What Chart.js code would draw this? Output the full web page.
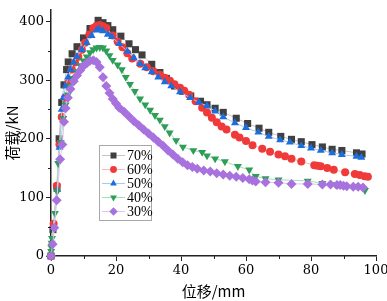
<!DOCTYPE html>
<html>
<head>
<meta charset="utf-8">
<script src="https://cdn.jsdelivr.net/npm/chart.js@4/dist/chart.umd.min.js"></script>
<style>
  html, body { margin: 0; padding: 0; background: #fff; }
  #wrap { width: 387px; height: 301px; }
</style>
</head>
<body>
<div id="wrap"><canvas id="loadPlot" width="387" height="301"></canvas></div>
<script>
// displacement (mm) / load (kN)
const labels = ['70%', '60%', '50%', '40%', '30%'];

const disp70 = [0, 0.6, 1.8, 2.5, 3.3, 4, 4.8, 5.3, 6.5, 8, 10, 12, 14.5, 16, 17.5, 19, 21.5, 24, 26, 28, 31, 33.5, 35.5, 38, 40.5, 43, 46, 48, 50.5, 53, 57, 60.5, 64, 67, 70.7, 74, 77, 80.3, 83.5, 86.5, 89.5, 94, 95.7];
const load70 = [0, 45, 118, 200, 262, 292, 318, 331, 345, 357, 372, 388, 402, 398, 393, 386, 375, 362, 352, 343, 327, 313, 303, 290, 281, 273, 264, 258, 252, 245, 235, 226, 218, 211, 204, 199, 195, 190, 186, 182, 180, 176, 174];

const disp60 = [0, 0.8, 1.8, 2.6, 3.3, 4.3, 5.3, 6.4, 7.4, 8.4, 9.5, 10.5, 11.8, 13, 14, 15, 16, 17, 19, 20.5, 22, 23.5, 25, 27.5, 29.5, 31.5, 33.5, 35, 36.6, 38, 39.7, 41, 42.5, 44.5, 46.5, 48, 49.5, 51, 52.5, 54, 56.6, 58, 60, 62, 65, 67.4, 70, 72, 74, 77, 81, 82, 83, 85, 87, 90.5, 93.5, 95, 96.5, 97.5];
const load60 = [0, 55, 120, 190, 237, 270, 295, 318, 330, 340, 352, 364, 378, 389, 393, 394, 392, 389, 376, 366, 356, 346, 337, 328, 322, 315, 309, 304, 299, 293, 287, 282, 275, 264, 253, 245, 236, 228, 221, 216, 207, 202, 196, 189, 183, 178, 173, 170, 166, 161, 155, 154, 153, 150, 147, 143, 140, 138, 136, 135];

const disp50 = [0, 1, 1.9, 2.6, 3.3, 3.8, 4.5, 5.3, 6, 7, 8, 9.5, 11, 12.5, 14, 14.8, 16, 17.5, 18.7, 21, 23.5, 25.5, 27.4, 29, 31, 33, 35, 37, 39.7, 42.8, 45.5, 48, 50.5, 53, 56.6, 60, 63.8, 67, 70.5, 73.5, 77, 80, 83, 86.5, 89.5, 94, 95.5];
const load50 = [0, 50, 113, 185, 250, 270, 290, 305, 318, 330, 340, 352, 364, 376, 385, 387, 384, 378, 374, 362, 349, 338, 328, 321, 314, 305, 297, 290, 280, 270, 262, 256, 247, 237, 227, 219, 211, 204, 198, 194, 188, 184, 180, 176, 173, 170, 168];

const disp40 = [0, 0.05, 0.1, 0.2, 0.3, 1.2, 1.9, 2.2, 3, 3.8, 4.5, 5.2, 6, 7, 8, 9, 10, 11, 12, 13, 14, 15, 16, 17, 18, 19, 20.5, 21.8, 23, 24.3, 25.8, 27.4, 29, 30.5, 32, 33.5, 35, 36.5, 38.5, 40.6, 43.8, 46.5, 48, 50.5, 53.5, 57.5, 61, 63, 66, 70, 79, 83.5, 87.5, 96.6];
const load40 = [0, 8, 15, 22, 30, 73, 110, 158, 194, 235, 258, 275, 290, 303, 315, 325, 333, 340, 347, 352, 355, 356, 355, 350, 342, 334, 326, 318, 305, 293, 281, 268, 258, 249, 240, 232, 221, 210, 197, 186, 180, 177, 171, 166, 161, 153, 147, 136, 132, 130, 128, 124, 122, 112];

const disp30 = [0, 0.5, 1, 1.75, 2.8, 3.5, 4, 4.5, 5.2, 6, 7, 8, 9, 10, 11, 12, 13, 14, 15, 16, 17, 18, 19, 20, 21, 22.5, 24, 25.5, 27, 28.5, 30, 31.5, 33, 34.5, 36, 37.5, 39, 40.5, 42, 43.5, 45, 47, 49, 51, 53, 55, 57, 59, 61, 62, 63, 66, 70, 74, 79, 83.5, 86, 88, 89, 90, 91, 93, 94.5, 96];
const load30 = [0, 20, 48, 95, 165, 190, 229, 252, 270, 285, 298, 308, 317, 324, 329, 333, 334, 331, 322, 305, 290, 278, 268, 260, 253, 246, 238, 230, 223, 216, 209, 202, 195, 188, 180, 173, 166, 160, 155, 152, 149, 146, 144, 141, 139, 137, 135, 133, 131, 129, 127, 126, 125, 123, 123, 122, 122, 121, 121, 120, 119, 118, 118, 117];

const xTicks = [0, 20, 40, 60, 80, 100];
const yTicks = [0, 100, 200, 300, 400];

const markerColors = ['#404040', '#f03a3a', '#1c6edc', '#2e9e56', '#a872de'];
const lineColors = ['#c4c4c4', '#f7b8b8', '#a9c8f2', '#a9dcbc', '#dcc6f3'];
const markerStyles = ['rect', 'circle', 'triangle', 'triangle', 'rectRot'];
const markerRotation = [0, 0, 0, 180, 0];
const markerRadius = [5, 4, 4.6, 4.6, 5];

function makePoints(xs, ys) {
    return xs.map((x, i) => ({ x: x, y: ys[i] }));
}

const seriesData = [
    makePoints(disp70, load70),
    makePoints(disp60, load60),
    makePoints(disp50, load50),
    makePoints(disp40, load40),
    makePoints(disp30, load30)
];

const datasets = seriesData.map((pts, i) => ({
    label: labels[i],
    data: pts,
    showLine: true,
    borderColor: lineColors[i],
    borderWidth: 1,
    backgroundColor: markerColors[i],
    pointBackgroundColor: markerColors[i],
    pointBorderColor: markerColors[i],
    pointBorderWidth: 0,
    pointStyle: markerStyles[i],
    pointRotation: markerRotation[i],
    pointRadius: markerRadius[i],
    order: 5 - i,
    clip: false
}));

function drawMarker(ctx, style, rot, x, y, r, color) {
    ctx.save();
    ctx.fillStyle = color;
    ctx.beginPath();
    if (style === 'rect') {
        const s = r * Math.SQRT1_2;
        ctx.rect(x - s, y - s, 2 * s, 2 * s);
    } else if (style === 'circle') {
        ctx.arc(x, y, r, 0, Math.PI * 2);
    } else if (style === 'triangle') {
        const base = rot ? Math.PI / 2 : -Math.PI / 2;
        for (let k = 0; k < 3; k++) {
            const a = base + k * 2 * Math.PI / 3;
            const px = x + r * Math.cos(a);
            const py = y + r * Math.sin(a);
            if (k === 0) ctx.moveTo(px, py); else ctx.lineTo(px, py);
        }
        ctx.closePath();
    } else {
        ctx.moveTo(x, y - r);
        ctx.lineTo(x + r, y);
        ctx.lineTo(x, y + r);
        ctx.lineTo(x - r, y);
        ctx.closePath();
    }
    ctx.fill();
    ctx.restore();
}

// minor ticks + boxed legend inside the plot
const extras = {
    id: 'extras',
    afterDraw(chart) {
        const ctx = chart.ctx;
        const xs = chart.scales.x;
        const ys = chart.scales.y;
        const area = chart.chartArea;
        ctx.save();
        ctx.strokeStyle = '#222';
        ctx.lineWidth = 1;
        ctx.beginPath();
        for (let v = 10; v < 100; v += 20) {
            const px = Math.round(xs.getPixelForValue(v)) + 0.5;
            ctx.moveTo(px, area.bottom);
            ctx.lineTo(px, area.bottom + 3);
        }
        for (let v = 50; v < 420; v += 100) {
            const py = Math.round(ys.getPixelForValue(v)) + 0.5;
            ctx.moveTo(area.left, py);
            ctx.lineTo(area.left - 3, py);
        }
        ctx.stroke();

        // legend
        const bx = 99.5, by = 145.5, bw = 52, bh = 75;
        ctx.fillStyle = '#fff';
        ctx.fillRect(bx, by, bw, bh);
        ctx.strokeStyle = '#a8a8a8';
        ctx.strokeRect(bx, by, bw, bh);
        ctx.font = '14px "Liberation Serif"';
        ctx.textBaseline = 'middle';
        labels.forEach((lab, i) => {
            const ry = 155.5 + i * 14;
            ctx.strokeStyle = lineColors[i];
            ctx.beginPath();
            ctx.moveTo(102, ry);
            ctx.lineTo(125, ry);
            ctx.stroke();
            drawMarker(ctx, markerStyles[i], markerRotation[i], 113.5, ry, markerRadius[i] * 0.85, markerColors[i]);
            ctx.fillStyle = '#000';
            ctx.fillText(lab, 127, ry + 0.5);
        });
        ctx.restore();
    }
};

new Chart('loadPlot', {
    type: 'scatter',
    data: { datasets: datasets },
    plugins: [extras],
    options: {
        responsive: false,
        animation: false,
        layout: { padding: { top: 1, right: 11, left: 0, bottom: 0 } },
        plugins: {
            legend: { display: false },
            tooltip: { enabled: false }
        },
        scales: {
            x: {
                type: 'linear',
                min: 0,
                max: 100,
                afterBuildTicks: s => { s.ticks = xTicks.map(v => ({ value: v })); },
                afterFit: s => { s.height = 45; s.paddingLeft = 0; s.paddingRight = 0; },
                border: { display: true, color: '#222', width: 1.5 },
                grid: { drawOnChartArea: false, drawTicks: true, tickLength: 5, tickColor: '#222' },
                ticks: { color: '#000', padding: 2, maxRotation: 0, font: { family: '"DejaVu Serif"', size: 13 } },
                title: {
                    display: true,
                    text: '位移/mm',
                    color: '#000',
                    padding: { top: 0, bottom: 1 },
                    font: { family: '"Noto Sans CJK SC"', size: 15 }
                }
            },
            y: {
                min: 0,
                max: 420,
                afterBuildTicks: s => { s.ticks = yTicks.map(v => ({ value: v })); },
                afterFit: s => { s.width = 51; },
                border: { display: true, color: '#222', width: 1.5 },
                grid: { drawOnChartArea: false, drawTicks: true, tickLength: 5, tickColor: '#222' },
                ticks: { color: '#000', padding: 2, font: { family: '"DejaVu Serif"', size: 13 } },
                title: {
                    display: true,
                    text: '荷载/kN',
                    color: '#000',
                    padding: { top: 3, bottom: 0 },
                    font: { family: '"Noto Sans CJK SC"', size: 15 }
                }
            }
        }
    }
});
</script>
</body>
</html>
